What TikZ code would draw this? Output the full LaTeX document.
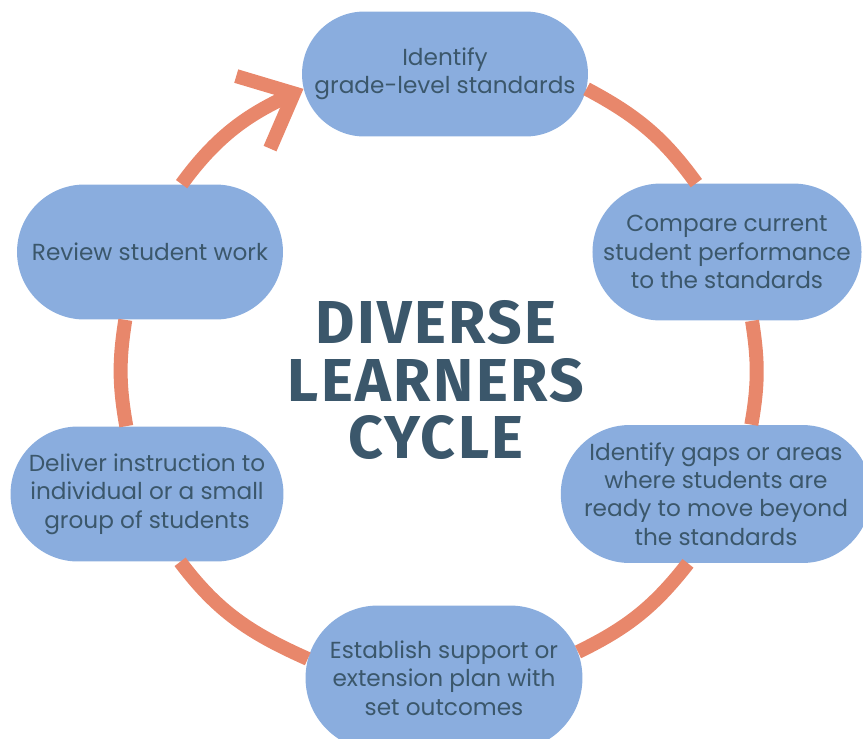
\documentclass[tikz,border=0pt]{standalone}
\usepackage{fontspec}
\setmainfont{Poppins}
\newfontfamily\titlefont[LetterSpace=4]{Fira Sans}
\usetikzlibrary{shapes.misc,arrows.meta}
\definecolor{BlobClr}{rgb}{0.54,0.68,0.87}
\definecolor{ArcClr}{rgb}{0.91,0.53,0.42}
\definecolor{TextClr}{rgb}{0.23,0.34,0.42}

\begin{document}
\begin{tikzpicture}[x=0.02cm,y=-0.02cm,
  pill/.style={rounded rectangle,fill=BlobClr,text=TextClr,align=center,inner sep=0pt,
    font=\fontsize{13.2}{16.2}\selectfont},
  arcline/.style={draw=ArcClr,line width=0.28cm}]
\useasboundingbox (0,0) rectangle (863,738);

% the six steps
\node[pill,minimum width=5.72cm,minimum height=2.5cm] (ident) at (445,74) {Identify\\grade-level standards};
\node[pill,minimum width=5.34cm,minimum height=2.74cm] (compare) at (727,252) {Compare current\\student performance\\to the standards};
\node[pill,minimum width=5.84cm,minimum height=2.76cm] (gaps) at (716,494) {Identify gaps or areas\\where students are\\ready to move beyond\\the standards};
\node[pill,minimum width=5.54cm,minimum height=2.9cm] (plan) at (444,678) {Establish support or\\extension plan with\\set outcomes};
\node[pill,minimum width=5.46cm,minimum height=2.7cm] (deliver) at (147,494) {Deliver instruction to\\individual or a small\\group of students};
\node[pill,minimum width=5.32cm,minimum height=2.7cm] (review) at (150,252) {Review student work};

\node[text=TextClr,align=center,font=\titlefont\bfseries\fontsize{34.5}{33}\selectfont] (title) at (436,380) {DIVERSE\\LEARNERS\\CYCLE};

% arcs round the circle
\draw[arcline] (ident.-6) to[out=-28,in=126] (compare.114);
\draw[arcline] (compare.-70) to[out=-81,in=80] (gaps.63);
\draw[arcline] (gaps.-112) to[out=-128,in=26] (plan.11);
\draw[arcline] (plan.172) to[out=156,in=-53] (deliver.-64);
\draw[arcline] (deliver.107) to[out=100,in=-99] (review.-110);
\draw[arcline,-{Straight Barb[length=0.9cm,width=1.6cm]}] (review.65) to[out=54,in=-155] (ident.186);

\end{tikzpicture}
\end{document}
